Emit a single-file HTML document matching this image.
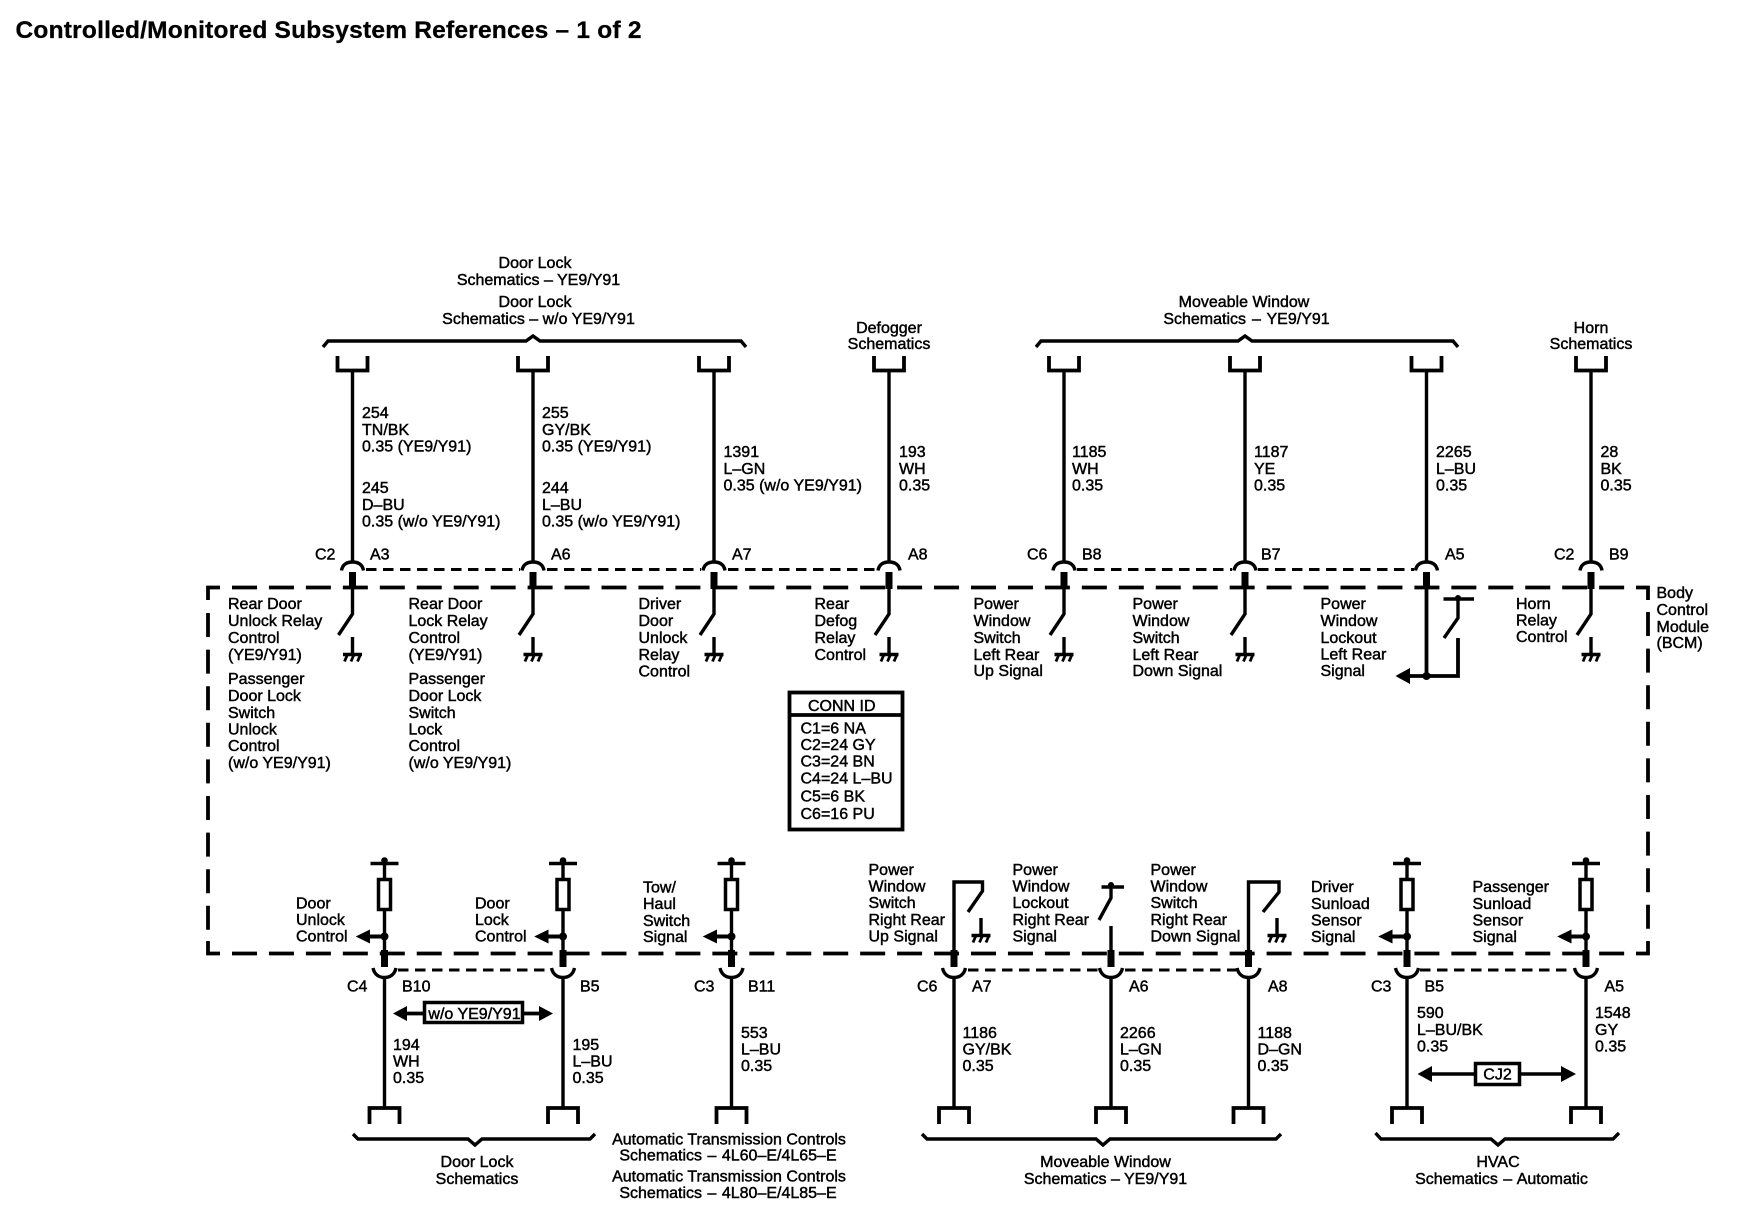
<!DOCTYPE html>
<html><head><meta charset="utf-8"><style>
html,body{margin:0;padding:0;background:#fff}
svg{display:block}
text{font-family:"Liberation Sans",sans-serif;font-size:16px;fill:#000;stroke:#000;stroke-width:.45px}
.t{font-weight:bold;font-size:24.5px;stroke:#000;stroke-width:.3px}
.m{text-anchor:middle}
.l{fill:none;stroke:#000;stroke-width:3.4}
.d{fill:none;stroke:#000;stroke-width:3;stroke-dasharray:10.5 6.5}
.b{fill:none;stroke:#000;stroke-width:3.8}
</style></head><body>
<svg width="1740" height="1216" viewBox="0 0 1740 1216" xmlns="http://www.w3.org/2000/svg">
<defs>
<g id="gnd"><path class="l" d="M0 637V654M-9.500 654.500H9.500" /><path d="M-8 661.500l3-7M-1.500 661.500l3-7M5 661.500l3-7" fill="none" stroke="#000" stroke-width="2.800"/></g>
<g id="topc"><path class="b" d="M-15 356V370.500H15V356" /><path class="l" d="M0 371V561" /><path class="l" d="M-11 570.500C-10 564-5 562 0 562C5 562 10 564 11 570.500" /><rect x="-3.500" y="572" width="7" height="17"/></g>
<g id="sw"><path class="l" d="M0 589V614L-14 635" /><use href="#gnd"/></g>
<g id="botc"><rect x="-3.500" y="950" width="7" height="17"/><path class="l" d="M-11.500 968C-10 975-5 977.500 0 977.500C5 977.500 10 975 11.500 968" /><path class="l" d="M0 978V1108" /><path class="b" d="M-15 1124V1108H15V1124" /></g>
<g id="res"><path class="l" d="M-14 863.500H14M0 863.500V952" /><circle cy="860.500" r="3.300"/><rect x="-6" y="879.500" width="12" height="30" fill="#fff" stroke="#000" stroke-width="3.500"/><circle cy="936.500" r="4"/><path d="M-15 934.500H0V938.500H-15Z"/><path d="M-28.800 936.500L-14.500 929.500V943.500Z"/></g>
</defs>

<text class="t" x="15.500" y="38" textLength="626" lengthAdjust="spacing">Controlled/Monitored Subsystem References – 1 of 2</text>

<!-- module box -->
<path class="b" d="M208 600V587.500H220M1636 587.500H1648V600M208 941V953.500H220M1636 953.500H1648V941" />
<path class="b" stroke-dasharray="25 11.950" d="M232 587.500H1630M232 953.500H1630" />
<path class="b" stroke-dasharray="24 12.600" d="M208 613V930M1648 612V930" />

<!-- top connectors -->
<use href="#topc" x="352.500"/><use href="#topc" x="533"/><use href="#topc" x="714"/><use href="#topc" x="889"/><use href="#topc" x="1064"/><use href="#topc" x="1245"/><use href="#topc" x="1426.500"/><use href="#topc" x="1591"/>
<use href="#sw" x="352.500"/><use href="#sw" x="533"/><use href="#sw" x="714"/><use href="#sw" x="889"/><use href="#sw" x="1064"/><use href="#sw" x="1245"/><use href="#sw" x="1591"/>
<path class="d" d="M366 569.500H520M547 569.500H701M728 569.500H876M1077 569.500H1232M1258 569.500H1414" />

<!-- lockout left rear -->
<path class="b" d="M1426.500 589V676" />
<path class="b" d="M1408 676H1458V638" />
<path d="M1395.500 676L1410 668V684Z"/><circle cx="1426.500" cy="676" r="4"/>
<path class="l" d="M1443.500 599H1474M1458 599V618L1444 638" /><circle cx="1458" cy="598" r="3"/>

<!-- braces -->
<path class="l" d="M323 347L328 341H526L533 336L540 341H741L746 347" />
<path class="l" d="M1036 347L1041 341H1238L1245 336L1252 341H1453L1458 347" />
<path class="l" d="M353 1134L358 1139H468L475 1145L482 1139H590L595 1134" />
<path class="l" d="M922 1134L927 1139H1096L1103 1145L1110 1139H1276L1281 1134" />
<path class="l" d="M1375.500 1133L1381 1139H1491L1498 1145L1505 1139H1613L1619 1133" />

<!-- bottom connectors -->
<use href="#botc" x="384.500"/><use href="#botc" x="563"/><use href="#botc" x="731.500"/><use href="#botc" x="954"/><use href="#botc" x="1111"/><use href="#botc" x="1248.500"/><use href="#botc" x="1407"/><use href="#botc" x="1586"/>
<use href="#res" x="384.500"/><use href="#res" x="563"/><use href="#res" x="731.500"/><use href="#res" x="1407"/><use href="#res" x="1586"/>
<path class="d" d="M398 970H550M968 970H1098M1125 970H1236M1420 970H1573" />

<!-- bottom switches -->
<path class="l" d="M954 952V882H982.500V891L968 912" /><use href="#gnd" x="981" y="281"/>
<path class="l" d="M1111 952V926M1101.500 887H1124M1111 887V898L1099 920" /><circle cx="1111" cy="885" r="3"/>
<path class="l" d="M1248.500 952V882H1279V892L1263 912" /><use href="#gnd" x="1277" y="281"/>

<!-- CONN ID -->
<rect x="789.500" y="692.500" width="113" height="137" fill="none" stroke="#000" stroke-width="3.800"/><path class="b" d="M788 715H904" />

<!-- option boxes -->
<path class="b" d="M405 1013.500H423M524 1013.500H541" /><path d="M393 1013.500L407 1006V1021Z"/><path d="M553 1013.500L539 1006V1021Z"/>
<rect x="424.500" y="1002.500" width="98" height="20" fill="#fff" stroke="#000" stroke-width="3.500"/>
<path class="l" d="M1430 1074H1474M1521 1074H1564" /><path d="M1417.500 1074L1432 1066V1082Z"/><path d="M1576 1074L1561 1066V1082Z"/>
<rect x="1475.500" y="1063.500" width="44" height="21" fill="#fff" stroke="#000" stroke-width="3.500"/>

<!-- top titles -->
<text class="m" x="535" y="268">Door Lock</text>
<text class="m" x="538.500" y="285">Schematics – YE9/Y91</text>
<text class="m" x="535" y="307">Door Lock</text>
<text class="m" x="538.500" y="324">Schematics – w/o YE9/Y91</text>
<text class="m" x="889" y="333">Defogger</text>
<text class="m" x="889" y="349">Schematics</text>
<text class="m" x="1244" y="307">Moveable Window</text>
<text class="m" x="1246.500" y="324" word-spacing="1.500">Schematics – YE9/Y91</text>
<text class="m" x="1591" y="333">Horn</text>
<text class="m" x="1591" y="349">Schematics</text>

<!-- top wire labels -->
<text><tspan x="362" y="418">254</tspan><tspan x="362" y="435">TN/BK</tspan><tspan x="362" y="451.500">0.35 (YE9/Y91)</tspan><tspan x="362" y="493">245</tspan><tspan x="362" y="510">D–BU</tspan><tspan x="362" y="526.500">0.35 (w/o YE9/Y91)</tspan></text>
<text><tspan x="542" y="418">255</tspan><tspan x="542" y="435">GY/BK</tspan><tspan x="542" y="451.500">0.35 (YE9/Y91)</tspan><tspan x="542" y="493">244</tspan><tspan x="542" y="510">L–BU</tspan><tspan x="542" y="526.500">0.35 (w/o YE9/Y91)</tspan></text>
<text><tspan x="723.500" y="457">1391</tspan><tspan x="723.500" y="474">L–GN</tspan><tspan x="723.500" y="490.500">0.35 (w/o YE9/Y91)</tspan></text>
<text><tspan x="899" y="457">193</tspan><tspan x="899" y="474">WH</tspan><tspan x="899" y="490.500">0.35</tspan></text>
<text><tspan x="1072" y="457">1185</tspan><tspan x="1072" y="474">WH</tspan><tspan x="1072" y="490.500">0.35</tspan></text>
<text><tspan x="1254" y="457">1187</tspan><tspan x="1254" y="474">YE</tspan><tspan x="1254" y="490.500">0.35</tspan></text>
<text><tspan x="1436" y="457">2265</tspan><tspan x="1436" y="474">L–BU</tspan><tspan x="1436" y="490.500">0.35</tspan></text>
<text><tspan x="1600.500" y="457">28</tspan><tspan x="1600.500" y="474">BK</tspan><tspan x="1600.500" y="490.500">0.35</tspan></text>

<!-- top pins -->
<text x="315" y="559.500">C2</text><text x="370" y="559.500">A3</text><text x="551" y="559.500">A6</text><text x="732" y="559.500">A7</text><text x="908" y="559.500">A8</text><text x="1027" y="559.500">C6</text><text x="1082" y="559.500">B8</text><text x="1261" y="559.500">B7</text><text x="1445" y="559.500">A5</text><text x="1554" y="559.500">C2</text><text x="1609" y="559.500">B9</text>

<!-- module labels top -->
<text><tspan x="228" y="609">Rear Door</tspan><tspan x="228" y="626">Unlock Relay</tspan><tspan x="228" y="643">Control</tspan><tspan x="228" y="660">(YE9/Y91)</tspan><tspan x="228" y="684">Passenger</tspan><tspan x="228" y="701">Door Lock</tspan><tspan x="228" y="718">Switch</tspan><tspan x="228" y="734.500">Unlock</tspan><tspan x="228" y="751">Control</tspan><tspan x="228" y="768">(w/o YE9/Y91)</tspan></text>
<text><tspan x="408.500" y="609">Rear Door</tspan><tspan x="408.500" y="626">Lock Relay</tspan><tspan x="408.500" y="643">Control</tspan><tspan x="408.500" y="660">(YE9/Y91)</tspan><tspan x="408.500" y="684">Passenger</tspan><tspan x="408.500" y="701">Door Lock</tspan><tspan x="408.500" y="718">Switch</tspan><tspan x="408.500" y="734.500">Lock</tspan><tspan x="408.500" y="751">Control</tspan><tspan x="408.500" y="768">(w/o YE9/Y91)</tspan></text>
<text><tspan x="638.500" y="609">Driver</tspan><tspan x="638.500" y="626">Door</tspan><tspan x="638.500" y="643">Unlock</tspan><tspan x="638.500" y="660">Relay</tspan><tspan x="638.500" y="676.500">Control</tspan></text>
<text><tspan x="814.500" y="609">Rear</tspan><tspan x="814.500" y="626">Defog</tspan><tspan x="814.500" y="643">Relay</tspan><tspan x="814.500" y="660">Control</tspan></text>
<text><tspan x="973.500" y="609">Power</tspan><tspan x="973.500" y="626">Window</tspan><tspan x="973.500" y="643">Switch</tspan><tspan x="973.500" y="660">Left Rear</tspan><tspan x="973.500" y="676">Up Signal</tspan></text>
<text><tspan x="1132.500" y="609">Power</tspan><tspan x="1132.500" y="626">Window</tspan><tspan x="1132.500" y="643">Switch</tspan><tspan x="1132.500" y="660">Left Rear</tspan><tspan x="1132.500" y="676">Down Signal</tspan></text>
<text><tspan x="1320.500" y="609">Power</tspan><tspan x="1320.500" y="626">Window</tspan><tspan x="1320.500" y="643">Lockout</tspan><tspan x="1320.500" y="659.500">Left Rear</tspan><tspan x="1320.500" y="676">Signal</tspan></text>
<text><tspan x="1516" y="609">Horn</tspan><tspan x="1516" y="625.500">Relay</tspan><tspan x="1516" y="642">Control</tspan></text>
<text><tspan x="1656.500" y="598">Body</tspan><tspan x="1656.500" y="615">Control</tspan><tspan x="1656.500" y="632">Module</tspan><tspan x="1656.500" y="648">(BCM)</tspan></text>

<!-- CONN ID text -->
<text x="808" y="711">CONN ID</text>
<text><tspan x="800.500" y="733.500">C1=6 NA</tspan><tspan x="800.500" y="750">C2=24 GY</tspan><tspan x="800.500" y="766.500">C3=24 BN</tspan><tspan x="800.500" y="783.500">C4=24 L–BU</tspan><tspan x="800.500" y="801.500">C5=6 BK</tspan><tspan x="800.500" y="819">C6=16 PU</tspan></text>

<!-- module labels bottom -->
<text><tspan x="296" y="908.500">Door</tspan><tspan x="296" y="925">Unlock</tspan><tspan x="296" y="941.500">Control</tspan></text>
<text><tspan x="475" y="908.500">Door</tspan><tspan x="475" y="925">Lock</tspan><tspan x="475" y="941.500">Control</tspan></text>
<text><tspan x="643" y="892.500">Tow/</tspan><tspan x="643" y="909">Haul</tspan><tspan x="643" y="926">Switch</tspan><tspan x="643" y="942">Signal</tspan></text>
<text><tspan x="868.500" y="875">Power</tspan><tspan x="868.500" y="891.500">Window</tspan><tspan x="868.500" y="908">Switch</tspan><tspan x="868.500" y="925">Right Rear</tspan><tspan x="868.500" y="941.500">Up Signal</tspan></text>
<text><tspan x="1012.500" y="875">Power</tspan><tspan x="1012.500" y="891.500">Window</tspan><tspan x="1012.500" y="908">Lockout</tspan><tspan x="1012.500" y="925">Right Rear</tspan><tspan x="1012.500" y="941.500">Signal</tspan></text>
<text><tspan x="1150.500" y="875">Power</tspan><tspan x="1150.500" y="891.500">Window</tspan><tspan x="1150.500" y="908">Switch</tspan><tspan x="1150.500" y="925">Right Rear</tspan><tspan x="1150.500" y="941.500">Down Signal</tspan></text>
<text><tspan x="1311" y="892">Driver</tspan><tspan x="1311" y="909">Sunload</tspan><tspan x="1311" y="925.500">Sensor</tspan><tspan x="1311" y="942">Signal</tspan></text>
<text><tspan x="1472.500" y="892">Passenger</tspan><tspan x="1472.500" y="909">Sunload</tspan><tspan x="1472.500" y="925.500">Sensor</tspan><tspan x="1472.500" y="942">Signal</tspan></text>

<!-- bottom pins -->
<text x="347" y="991.500">C4</text><text x="402" y="991.500">B10</text><text x="580" y="991.500">B5</text><text x="694" y="991.500">C3</text><text x="748" y="991.500">B11</text><text x="917" y="991.500">C6</text><text x="972" y="991.500">A7</text><text x="1129" y="991.500">A6</text><text x="1268" y="991.500">A8</text><text x="1371" y="991.500">C3</text><text x="1424.500" y="991.500">B5</text><text x="1604.500" y="991.500">A5</text>

<!-- bottom wire labels -->
<text x="474.500" y="1019" class="m">w/o YE9/Y91</text>
<text class="m" x="1497.500" y="1079.500">CJ2</text>
<text><tspan x="393" y="1050">194</tspan><tspan x="393" y="1066.500">WH</tspan><tspan x="393" y="1083">0.35</tspan></text>
<text><tspan x="572.500" y="1050">195</tspan><tspan x="572.500" y="1066.500">L–BU</tspan><tspan x="572.500" y="1083">0.35</tspan></text>
<text><tspan x="741" y="1038">553</tspan><tspan x="741" y="1054.500">L–BU</tspan><tspan x="741" y="1071">0.35</tspan></text>
<text><tspan x="962.500" y="1038">1186</tspan><tspan x="962.500" y="1054.500">GY/BK</tspan><tspan x="962.500" y="1071">0.35</tspan></text>
<text><tspan x="1120" y="1038">2266</tspan><tspan x="1120" y="1054.500">L–GN</tspan><tspan x="1120" y="1071">0.35</tspan></text>
<text><tspan x="1257.500" y="1038">1188</tspan><tspan x="1257.500" y="1054.500">D–GN</tspan><tspan x="1257.500" y="1071">0.35</tspan></text>
<text><tspan x="1417" y="1018">590</tspan><tspan x="1417" y="1035">L–BU/BK</tspan><tspan x="1417" y="1051.500">0.35</tspan></text>
<text><tspan x="1595" y="1018">1548</tspan><tspan x="1595" y="1035">GY</tspan><tspan x="1595" y="1051.500">0.35</tspan></text>

<!-- bottom titles -->
<text class="m" x="477" y="1167">Door Lock</text>
<text class="m" x="477" y="1184">Schematics</text>
<text class="m" x="729" y="1144.500">Automatic Transmission Controls</text>
<text class="m" x="728" y="1160.500" word-spacing="1">Schematics – 4L60–E/4L65–E</text>
<text class="m" x="729" y="1181.500">Automatic Transmission Controls</text>
<text class="m" x="728" y="1198" word-spacing="1">Schematics – 4L80–E/4L85–E</text>
<text class="m" x="1105.500" y="1167">Moveable Window</text>
<text class="m" x="1105.500" y="1184">Schematics – YE9/Y91</text>
<text class="m" x="1498" y="1167">HVAC</text>
<text class="m" x="1501.500" y="1184" word-spacing="1">Schematics – Automatic</text>
</svg>
</body></html>
